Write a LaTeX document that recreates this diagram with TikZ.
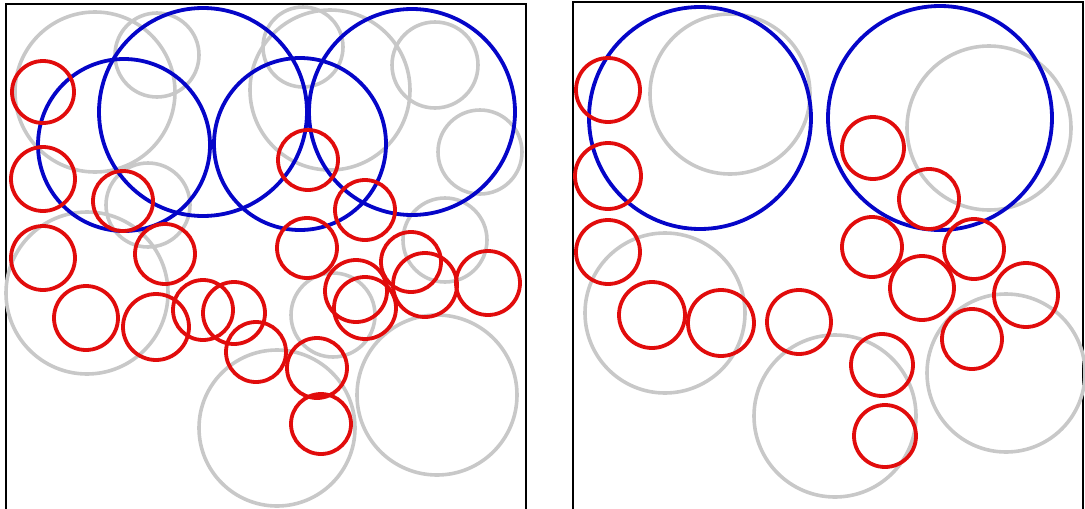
\documentclass[tikz,border=0pt]{standalone}
\usepackage{xcolor}
\usepackage{tikz}
\definecolor{ringred}{RGB}{225,12,12}
\definecolor{ringblue}{RGB}{5,5,200}
\definecolor{ringgray}{RGB}{200,200,200}

\begin{document}
\begin{tikzpicture}[
      x=1pt, y=-1pt,
      gring/.style={draw=ringgray, line width=3.6pt},
      rring/.style={draw=ringred, line width=3.8pt},
      bring/.style={draw=ringblue, line width=3.8pt},
      panel/.style={draw=black, line width=2pt}
  ]
    \useasboundingbox (0,0) rectangle (1085,509);
    \clip (0,0) rectangle (1085,509);

    % Left panel
    \draw[panel] (6,4) rectangle (526,540);
    \draw[gring] (95,92) circle[radius=80];
    \draw[gring] (157,55) circle[radius=42];
    \draw[gring] (148,205) circle[radius=42];
    \draw[gring] (87,293) circle[radius=81];
    \draw[gring] (277,428) circle[radius=78];
    \draw[gring] (437,395) circle[radius=80];
    \draw[gring] (333,315) circle[radius=42];
    \draw[gring] (435,65) circle[radius=43];
    \draw[gring] (480,152) circle[radius=42];
    \draw[gring] (445,240) circle[radius=42];
    \draw[gring] (303,47) circle[radius=40];
    \draw[gring] (330,90) circle[radius=80];

    \draw[bring] (124,145) circle[radius=86];
    \draw[bring] (203,112) circle[radius=104];
    \draw[bring] (300,144) circle[radius=86];
    \draw[bring] (412,112) circle[radius=103];

    \draw[rring] (43,92) circle[radius=31];
    \draw[rring] (43,179) circle[radius=32];
    \draw[rring] (123,201) circle[radius=30];
    \draw[rring] (43,258) circle[radius=32];
    \draw[rring] (165,254) circle[radius=30];
    \draw[rring] (86,318) circle[radius=32];
    \draw[rring] (156,327) circle[radius=33];
    \draw[rring] (203,310) circle[radius=30];
    \draw[rring] (234,313) circle[radius=31];
    \draw[rring] (256,352) circle[radius=30];
    \draw[rring] (317,368) circle[radius=30];
    \draw[rring] (321,424) circle[radius=30];
    \draw[rring] (308,160) circle[radius=30];
    \draw[rring] (365,210) circle[radius=30];
    \draw[rring] (307,248) circle[radius=30];
    \draw[rring] (356,291) circle[radius=31];
    \draw[rring] (365,308) circle[radius=31];
    \draw[rring] (411,262) circle[radius=30];
    \draw[rring] (425,285) circle[radius=32];
    \draw[rring] (488,283) circle[radius=32];

    % Right panel
    \draw[panel] (573,2) rectangle (1083,540);
    \draw[gring] (730,94) circle[radius=80];
    \draw[gring] (665,313) circle[radius=80];
    \draw[gring] (835,416) circle[radius=81];
    \draw[gring] (1006,373) circle[radius=79];
    \draw[gring] (989,128) circle[radius=82];

    \draw[bring] (700,118) circle[radius=111];
    \draw[bring] (940,118) circle[radius=112];

    \draw[rring] (608,90) circle[radius=32];
    \draw[rring] (608,176) circle[radius=33];
    \draw[rring] (608,252) circle[radius=32];
    \draw[rring] (652,315) circle[radius=33];
    \draw[rring] (721,323) circle[radius=33];
    \draw[rring] (799,322) circle[radius=32];
    \draw[rring] (882,365) circle[radius=31];
    \draw[rring] (885,436) circle[radius=31];
    \draw[rring] (972,339) circle[radius=30];
    \draw[rring] (1026,295) circle[radius=32];
    \draw[rring] (922,288) circle[radius=32];
    \draw[rring] (872,247) circle[radius=30];
    \draw[rring] (974,249) circle[radius=30];
    \draw[rring] (873,148) circle[radius=31];
    \draw[rring] (929,199) circle[radius=30];
  \end{tikzpicture}
\end{document}
